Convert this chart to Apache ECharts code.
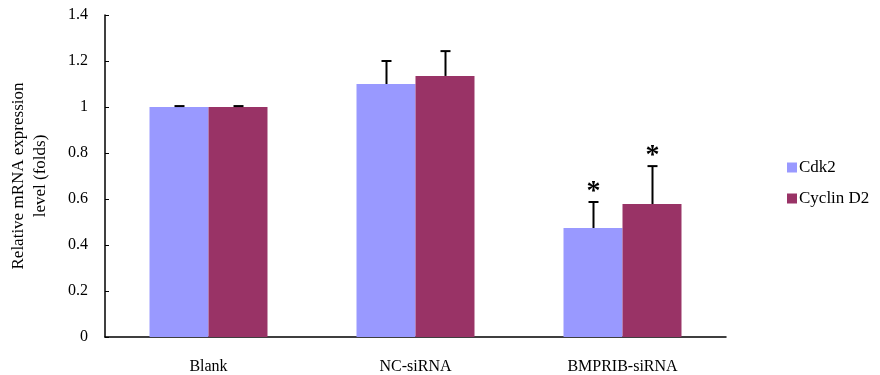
<!DOCTYPE html>
<html>
<head>
<meta charset="utf-8">
<script src="https://cdn.jsdelivr.net/npm/echarts@6/dist/echarts.min.js"></script>
<style>
  html, body { margin: 0; padding: 0; background: #fff; }
  #chart { width: 880px; height: 375px; }
</style>
</head>
<body>
<div id="chart"></div>
<script>
// Groups along the x axis
const categories = ['Blank', 'NC-siRNA', 'BMPRIB-siRNA'];
// Mean relative expression per group
const cdk2Values = [1.0, 1.10, 0.474];
const cyclinD2Values = [1.0, 1.135, 0.578];
// Upper error (SD) per group
const cdk2Errors = [0.004, 0.10, 0.113];
const cyclinD2Errors = [0.004, 0.108, 0.165];
// Significance markers per group
const cdk2Sig = ['', '', '*'];
const cyclinD2Sig = ['', '', '*'];
const yTicks = [0, 0.2, 0.4, 0.6, 0.8, 1, 1.2, 1.4];

const seriesNames = ['Cdk2', 'Cyclin D2'];
const colors = ['#9999FF', '#993366'];
const barFill = 0.57; // fraction of a category band covered by the bar pair
const font = 'Liberation Serif, Times New Roman, serif';

function errorSeries(idx, values, errors, sig) {
  return {
    type: 'custom',
    silent: true,
    z: 5,
    data: values.map((v, i) => [i, v, errors[i], sig[i]]),
    renderItem: function (params, api) {
      const band = api.size([1, 0])[0];
      const bw = band * barFill / 2;
      const off = (idx === 0 ? -0.5 : 0.5) * bw;
      const base = api.coord([api.value(0), api.value(1)]);
      const top = api.coord([api.value(0), api.value(1) + api.value(2)]);
      const x = Math.round(base[0] + off) + 0.5;
      const cap = 5;
      const style = { stroke: '#000', lineWidth: 2 };
      const children = [
        { type: 'line', shape: { x1: x, y1: base[1], x2: x, y2: top[1] }, style: style },
        { type: 'line', shape: { x1: x - cap, y1: top[1], x2: x + cap, y2: top[1] }, style: style }
      ];
      const mark = sig[params.dataIndex];
      if (mark) {
        children.push({
          type: 'text',
          style: {
            text: mark, x: x, y: top[1] + 4,
            align: 'center', verticalAlign: 'bottom',
            font: 'bold 28px ' + font, fill: '#000'
          }
        });
      }
      return { type: 'group', children: children };
    }
  };
}

const chart = echarts.init(document.getElementById('chart'));
chart.setOption({
  animation: false,
  backgroundColor: '#fff',
  grid: { left: 105, right: 154, top: 15, bottom: 38, outerBoundsMode: 'none', containLabel: false },
  legend: {
    orient: 'vertical',
    left: 782, top: 154,
    itemWidth: 10, itemHeight: 10, itemGap: 14,
    icon: 'rect',
    data: seriesNames,
    textStyle: { fontFamily: font, fontSize: 17, color: '#000', padding: [0, 0, 0, -3] }
  },
  xAxis: {
    type: 'category',
    data: categories,
    axisLine: { lineStyle: { color: '#000', width: 1.5 } },
    axisTick: { inside: true, length: 5, lineStyle: { color: '#000' } },
    axisLabel: { margin: 22, fontFamily: font, fontSize: 16, color: '#000' }
  },
  yAxis: {
    type: 'value',
    min: 0, max: 1.4, interval: 0.2,
    name: 'Relative mRNA expression\nlevel (folds)',
    nameLocation: 'middle',
    nameGap: 53,
    nameTextStyle: { fontFamily: font, fontSize: 17, color: '#000', lineHeight: 22 },
    axisLine: { show: true, lineStyle: { color: '#000', width: 1.5 } },
    axisTick: { show: true, inside: true, length: 4, lineStyle: { color: '#000' } },
    splitLine: { show: false },
    axisLabel: {
      margin: 17, fontFamily: font, fontSize: 16, color: '#000',
      formatter: v => String(yTicks.find(t => Math.abs(t - v) < 1e-9) ?? v)
    }
  },
  series: [
    { name: seriesNames[0], type: 'bar', data: cdk2Values, barGap: 0, barCategoryGap: '43%',
      itemStyle: { color: colors[0] } },
    { name: seriesNames[1], type: 'bar', data: cyclinD2Values, barGap: 0, barCategoryGap: '43%',
      itemStyle: { color: colors[1] } },
    errorSeries(0, cdk2Values, cdk2Errors, cdk2Sig),
    errorSeries(1, cyclinD2Values, cyclinD2Errors, cyclinD2Sig)
  ]
});
</script>
</body>
</html>
